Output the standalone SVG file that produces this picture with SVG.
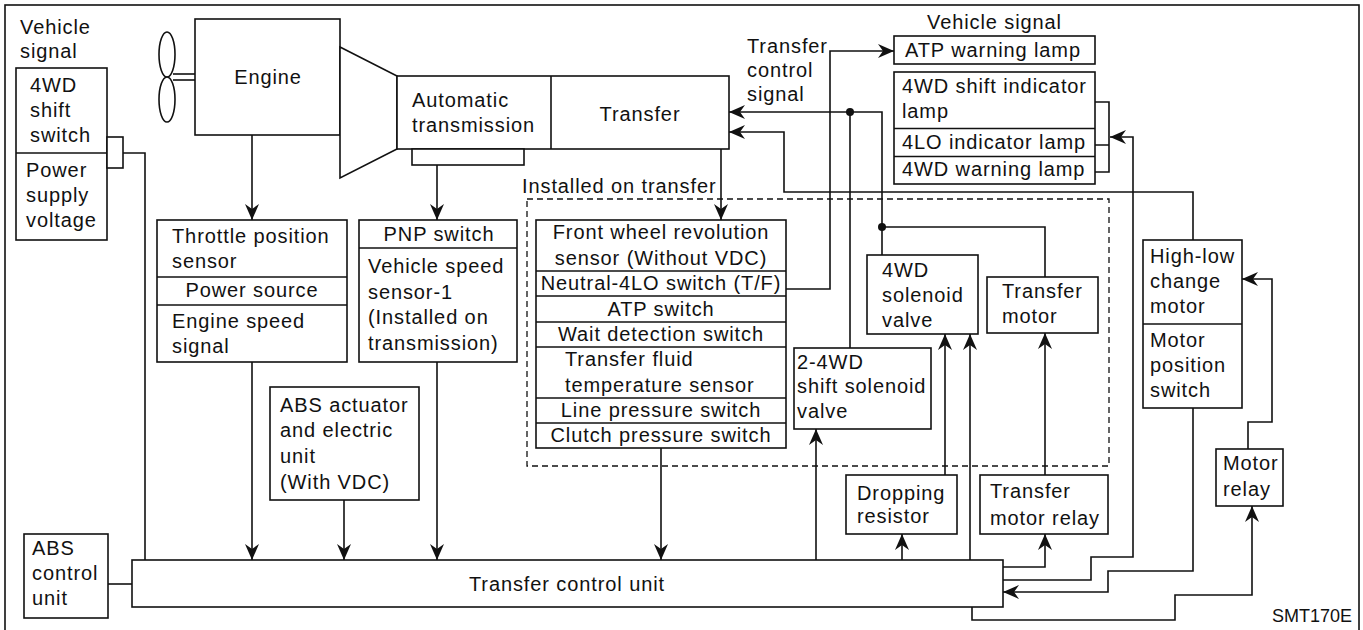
<svg xmlns="http://www.w3.org/2000/svg" width="1363" height="630" viewBox="0 0 1363 630">
<style>
.t{font-family:"Liberation Sans",Arial,sans-serif;font-size:20px;letter-spacing:0.9px;fill:#111}
.m{text-anchor:middle}
.b{fill:#fff;stroke:#111;stroke-width:1.6}
.l{fill:none;stroke:#111;stroke-width:1.6}
.a{fill:none;stroke:#111;stroke-width:1.6;marker-end:url(#ah)}
.d{fill:none;stroke:#111;stroke-width:1.3;stroke-dasharray:6 4}
</style>
<defs>
<marker id="ah" markerWidth="17" markerHeight="14" refX="16" refY="7" orient="auto" markerUnits="userSpaceOnUse">
<path d="M0,0 L16,7 L0,14 L5,7 Z" fill="#111"/>
</marker>
</defs>
<rect x="0" y="0" width="1363" height="630" fill="#fff"/>
<rect x="5" y="5" width="1354" height="700" class="l"/>

<g id="vehicle-signal-left">
<text class="t" x="20" y="34">Vehicle</text>
<text class="t" x="20" y="58">signal</text>
<rect class="b" x="16" y="68" width="91" height="172"/>
<line class="l" x1="16" y1="153" x2="107" y2="153"/>
<text class="t" x="30" y="92">4WD</text>
<text class="t" x="30" y="117">shift</text>
<text class="t" x="30" y="142">switch</text>
<text class="t" x="26" y="177">Power</text>
<text class="t" x="26" y="202">supply</text>
<text class="t" x="26" y="227">voltage</text>
<rect class="b" x="107" y="137" width="16" height="31"/>
</g>

<g id="engine">
<ellipse class="b" cx="167" cy="54.5" rx="8" ry="22.5"/>
<ellipse class="b" cx="167" cy="99.5" rx="8" ry="22.5"/>
<line class="l" x1="173" y1="74" x2="195" y2="74"/>
<line class="l" x1="173" y1="80" x2="195" y2="80"/>
<rect class="b" x="195" y="19" width="145" height="116"/>
<text class="t m" x="268" y="84">Engine</text>
<polygon class="b" points="340,47 397,76 397,149 340,178"/>
</g>

<g id="transmission-transfer">
<rect class="b" x="397" y="76" width="332" height="73"/>
<line class="l" x1="551" y1="76" x2="551" y2="149"/>
<text class="t" x="412" y="107">Automatic</text>
<text class="t" x="412" y="132">transmission</text>
<text class="t m" x="640" y="121">Transfer</text>
<rect class="b" x="412" y="149" width="112" height="16"/>
</g>

<g id="throttle">
<rect class="b" x="157" y="220" width="190" height="142"/>
<line class="l" x1="157" y1="277" x2="347" y2="277"/>
<line class="l" x1="157" y1="305" x2="347" y2="305"/>
<text class="t" x="172" y="243">Throttle position</text>
<text class="t" x="172" y="268">sensor</text>
<text class="t m" x="252" y="297">Power source</text>
<text class="t" x="172" y="328">Engine speed</text>
<text class="t" x="172" y="353">signal</text>
</g>

<g id="pnp">
<rect class="b" x="359" y="220" width="158" height="142"/>
<line class="l" x1="359" y1="248" x2="517" y2="248"/>
<text class="t m" x="439" y="241">PNP switch</text>
<text class="t" x="368" y="273">Vehicle speed</text>
<text class="t" x="368" y="299">sensor-1</text>
<text class="t" x="368" y="324">(Installed on</text>
<text class="t" x="368" y="350">transmission)</text>
</g>

<g id="abs-actuator">
<rect class="b" x="270" y="387" width="149" height="113"/>
<text class="t" x="280" y="412">ABS actuator</text>
<text class="t" x="280" y="437">and electric</text>
<text class="t" x="280" y="463">unit</text>
<text class="t" x="280" y="489">(With VDC)</text>
</g>

<g id="abs-control">
<rect class="b" x="24" y="534" width="84" height="84"/>
<text class="t" x="32" y="555">ABS</text>
<text class="t" x="32" y="580">control</text>
<text class="t" x="32" y="605">unit</text>
</g>

<g id="tcu">
<rect class="b" x="132" y="560" width="871" height="47"/>
<text class="t m" x="567" y="591">Transfer control unit</text>
</g>

<g id="installed-on-transfer">
<text class="t" x="522" y="193">Installed on transfer</text>
<rect class="d" x="527" y="199" width="582" height="267"/>
</g>

<g id="sensors">
<rect class="b" x="536" y="220" width="250" height="228"/>
<line class="l" x1="536" y1="271" x2="786" y2="271"/>
<line class="l" x1="536" y1="296" x2="786" y2="296"/>
<line class="l" x1="536" y1="322" x2="786" y2="322"/>
<line class="l" x1="536" y1="347" x2="786" y2="347"/>
<line class="l" x1="536" y1="398" x2="786" y2="398"/>
<line class="l" x1="536" y1="423" x2="786" y2="423"/>
<text class="t m" x="661" y="239">Front wheel revolution</text>
<text class="t m" x="661" y="265">sensor (Without VDC)</text>
<text class="t m" x="661" y="290">Neutral-4LO switch (T/F)</text>
<text class="t m" x="661" y="316">ATP switch</text>
<text class="t m" x="661" y="341">Wait detection switch</text>
<text class="t" x="565" y="366">Transfer fluid</text>
<text class="t" x="565" y="392">temperature sensor</text>
<text class="t m" x="661" y="417">Line pressure switch</text>
<text class="t m" x="661" y="442">Clutch pressure switch</text>
</g>

<g id="wd4-solenoid">
<rect class="b" x="867" y="255" width="111" height="79"/>
<text class="t" x="882" y="277">4WD</text>
<text class="t" x="882" y="302">solenoid</text>
<text class="t" x="882" y="327">valve</text>
</g>

<g id="transfer-motor">
<rect class="b" x="987" y="277" width="111" height="56"/>
<text class="t" x="1002" y="298">Transfer</text>
<text class="t" x="1002" y="323">motor</text>
</g>

<g id="shift-solenoid">
<rect class="b" x="794" y="348" width="137" height="81"/>
<text class="t" x="797" y="369">2-4WD</text>
<text class="t" x="797" y="393">shift solenoid</text>
<text class="t" x="797" y="418">valve</text>
</g>

<g id="dropping-resistor">
<rect class="b" x="846" y="475" width="111" height="59"/>
<text class="t" x="857" y="500">Dropping</text>
<text class="t" x="857" y="523">resistor</text>
</g>

<g id="transfer-motor-relay">
<rect class="b" x="980" y="475" width="128" height="59"/>
<text class="t" x="990" y="498">Transfer</text>
<text class="t" x="990" y="525">motor relay</text>
</g>

<g id="high-low-motor">
<rect class="b" x="1143" y="240" width="99" height="168"/>
<line class="l" x1="1143" y1="324" x2="1242" y2="324"/>
<text class="t" x="1150" y="263">High-low</text>
<text class="t" x="1150" y="288">change</text>
<text class="t" x="1150" y="313">motor</text>
<text class="t" x="1150" y="347">Motor</text>
<text class="t" x="1150" y="372">position</text>
<text class="t" x="1150" y="397">switch</text>
</g>

<g id="motor-relay">
<rect class="b" x="1216" y="449" width="67" height="57"/>
<text class="t" x="1223" y="470">Motor</text>
<text class="t" x="1223" y="496">relay</text>
</g>

<g id="vehicle-signal-right">
<text class="t" x="927" y="29">Vehicle signal</text>
<rect class="b" x="894" y="36" width="201" height="28"/>
<text class="t" x="905" y="57">ATP warning lamp</text>
<rect class="b" x="894" y="72" width="201" height="112"/>
<line class="l" x1="894" y1="128.5" x2="1095" y2="128.5"/>
<line class="l" x1="894" y1="156.5" x2="1095" y2="156.5"/>
<text class="t" x="902" y="93">4WD shift indicator</text>
<text class="t" x="902" y="118">lamp</text>
<text class="t" x="902" y="149">4LO indicator lamp</text>
<text class="t" x="902" y="176">4WD warning lamp</text>
</g>

<g id="transfer-control-signal">
<text class="t" x="747" y="53">Transfer</text>
<text class="t" x="747" y="77">control</text>
<text class="t" x="747" y="101">signal</text>
</g>

<g id="connectors">
<path class="a" d="M252,135 V220"/>
<path class="a" d="M437,165 V220"/>
<path class="a" d="M721,149 V220"/>
<path class="a" d="M252,362 V560"/>
<path class="a" d="M344,500 V560"/>
<path class="a" d="M437,362 V560"/>
<path class="a" d="M661,448 V560"/>
<path class="l" d="M123,153 H145 V560"/>
<path class="l" d="M108,584 H132"/>
<path class="a" d="M786,289 H830 V51 H894"/>
<path class="a" d="M882,255 V112 H729"/>
<path class="l" d="M850,348 V112"/>
<path class="l" d="M1045,277 V227 H882"/>
<circle cx="850" cy="112" r="4" fill="#111"/>
<circle cx="882" cy="227" r="4" fill="#111"/>
<path class="a" d="M1193,240 V192 H784 V132 H729"/>
<path class="l" d="M1095,102 H1109 V172 H1095 M1095,145 H1109"/>
<path class="a" d="M1003,580 H1091 V557 H1133 V137 H1110"/>
<path class="a" d="M816,560 V429"/>
<path class="a" d="M902,560 V534"/>
<path class="a" d="M945,475 V334"/>
<path class="a" d="M970,560 V334"/>
<path class="a" d="M1003,567 H1045 V534"/>
<path class="a" d="M1045,475 V333"/>
<path class="a" d="M1193,408 V571 H1108 V592 H1003"/>
<path class="a" d="M972,607 V620 H1175 V595 H1252 V506"/>
<path class="a" d="M1248,449 V422 H1272 V279 H1242"/>
</g>

<text x="1352" y="622" text-anchor="end" style="font-family:'Liberation Sans',Arial,sans-serif;font-size:18px;fill:#111">SMT170E</text>
</svg>
